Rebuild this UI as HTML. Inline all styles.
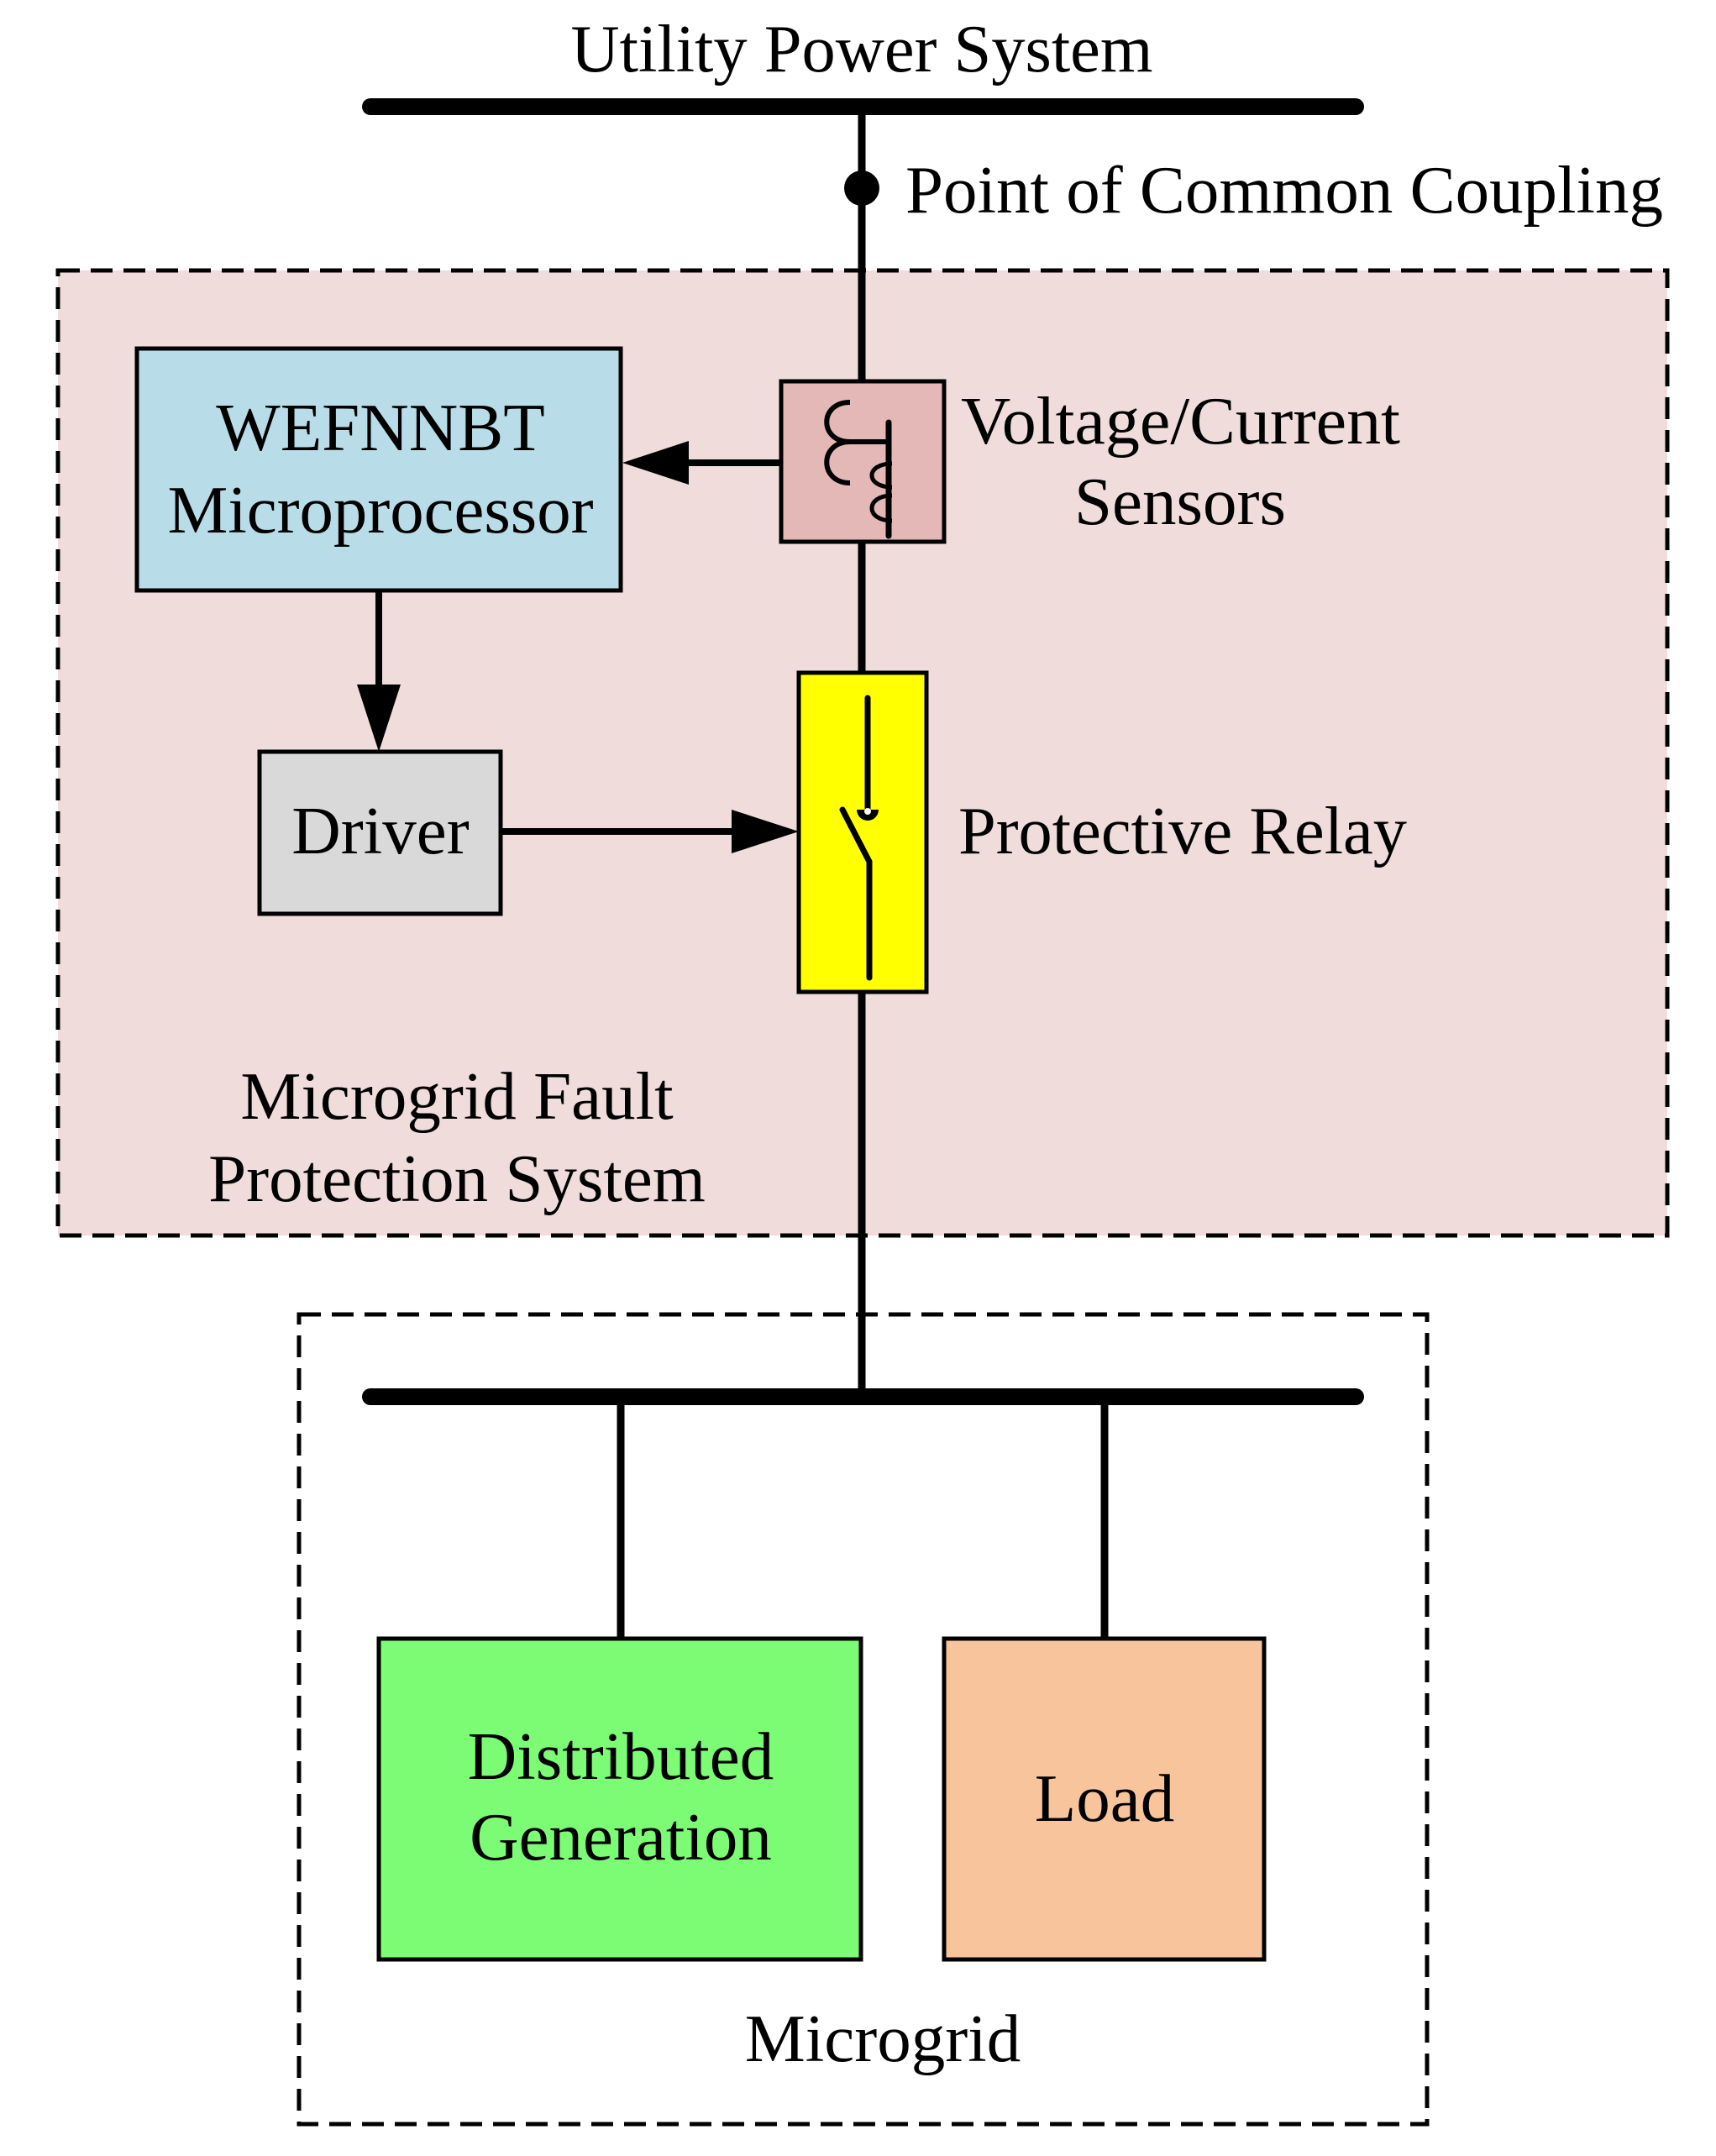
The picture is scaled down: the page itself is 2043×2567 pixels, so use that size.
<!DOCTYPE html>
<html><head><meta charset="utf-8"><style>html,body{margin:0;padding:0;background:#fff}svg{display:block}</style></head>
<body>
<svg width="2043" height="2567" viewBox="0 0 2043 2567" xmlns="http://www.w3.org/2000/svg" font-family="Liberation Serif, serif" font-size="81">
<rect x="69" y="322" width="1916" height="1149" fill="#f0dcdb" stroke="#000" stroke-width="5" stroke-dasharray="26 13"/>
<rect x="356" y="1565" width="1343" height="964" fill="#fff" stroke="#000" stroke-width="5" stroke-dasharray="26 13"/>
<text x="1026" y="85" text-anchor="middle" textLength="693" lengthAdjust="spacingAndGlyphs">Utility Power System</text>
<line x1="441" y1="127" x2="1614" y2="127" stroke="#000" stroke-width="20" stroke-linecap="round"/>
<line x1="1026" y1="127" x2="1026" y2="1663" stroke="#000" stroke-width="9"/>
<circle cx="1026" cy="224" r="21" fill="#000"/>
<text x="1078" y="253" textLength="902" lengthAdjust="spacingAndGlyphs">Point of Common Coupling</text>
<rect x="163" y="415" width="576" height="288" fill="#b8dde8" stroke="#000" stroke-width="5"/>
<text x="453" y="536" text-anchor="middle">WEFNNBT</text>
<text x="453" y="634" text-anchor="middle" textLength="507" lengthAdjust="spacingAndGlyphs">Microprocessor</text>
<rect x="930" y="454" width="194" height="191" fill="#e4b8b6" stroke="#000" stroke-width="5"/>
<path d="M1012 479 C975 479 975 526 1012 526 L1058 526 M1012 526 C975 526 975 575 1012 575" fill="none" stroke="#000" stroke-width="6"/>
<line x1="1058" y1="503" x2="1058" y2="638" stroke="#000" stroke-width="7" stroke-linecap="round"/>
<path d="M1062 552 C1030 552 1030 580 1062 580 M1062 590 C1030 590 1030 620 1062 620" fill="none" stroke="#000" stroke-width="5"/>
<line x1="930" y1="551" x2="795" y2="551" stroke="#000" stroke-width="8"/>
<polygon points="741,551 820,525 820,577" fill="#000"/>
<text x="1144" y="528" textLength="523" lengthAdjust="spacingAndGlyphs">Voltage/Current</text>
<text x="1405" y="624" text-anchor="middle">Sensors</text>
<rect x="951" y="801" width="152" height="380" fill="#ffff00" stroke="#000" stroke-width="5"/>
<line x1="1033" y1="831" x2="1033" y2="964" stroke="#000" stroke-width="7" stroke-linecap="round"/>
<path d="M1020 964 A13 13 0 0 0 1046 964 Z" fill="#000"/>
<circle cx="1033" cy="966" r="4" fill="#fff"/>
<line x1="1003" y1="964" x2="1035" y2="1026" stroke="#000" stroke-width="7" stroke-linecap="round"/>
<line x1="1035" y1="1026" x2="1035" y2="1164" stroke="#000" stroke-width="7" stroke-linecap="round"/>
<text x="1141" y="1016" textLength="534" lengthAdjust="spacingAndGlyphs">Protective Relay</text>
<line x1="451" y1="703" x2="451" y2="830" stroke="#000" stroke-width="8"/>
<polygon points="451,895 425,815 477,815" fill="#000"/>
<rect x="309" y="895" width="287" height="193" fill="#d9d9d9" stroke="#000" stroke-width="5"/>
<text x="453" y="1016" text-anchor="middle">Driver</text>
<line x1="596" y1="990" x2="880" y2="990" stroke="#000" stroke-width="8"/>
<polygon points="951,990 871,964 871,1016" fill="#000"/>
<text x="544" y="1332" text-anchor="middle">Microgrid Fault</text>
<text x="544" y="1430" text-anchor="middle">Protection System</text>
<line x1="441" y1="1663" x2="1614" y2="1663" stroke="#000" stroke-width="20" stroke-linecap="round"/>
<line x1="739" y1="1663" x2="739" y2="1951" stroke="#000" stroke-width="9"/>
<line x1="1315" y1="1663" x2="1315" y2="1951" stroke="#000" stroke-width="9"/>
<rect x="451" y="1951" width="574" height="382" fill="#7cfc74" stroke="#000" stroke-width="5"/>
<text x="739" y="2118" text-anchor="middle">Distributed</text>
<text x="739" y="2214" text-anchor="middle">Generation</text>
<rect x="1124" y="1951" width="381" height="382" fill="#f8c49c" stroke="#000" stroke-width="5"/>
<text x="1315" y="2168" text-anchor="middle">Load</text>
<text x="1051" y="2454" text-anchor="middle">Microgrid</text>
</svg>
</body></html>
